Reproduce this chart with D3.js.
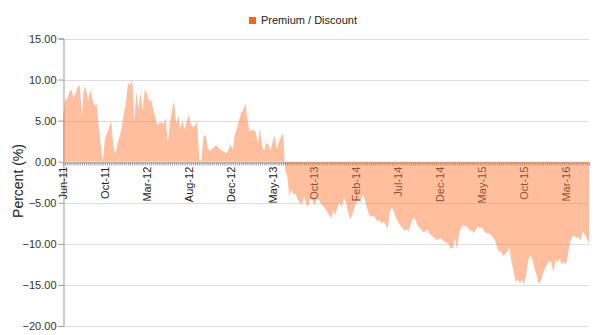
<!DOCTYPE html>
<html><head><meta charset="utf-8">
<script src="https://cdn.jsdelivr.net/npm/d3@7"></script>
<style>body{margin:0;background:#fff;}svg{display:block;font-family:"Liberation Sans",Arial,sans-serif;}</style>
</head><body><svg id="c" width="600" height="335"></svg>
<script>
const seriesName = "Premium / Discount";
const values = [
5.5,7.5,7.6,8.5,8.8,7.8,8.3,9.1,9.3,5.5,9.2,8.8,7.5,8.8,7.6,6.8,7.1,4.5,2.0,0.1,
2.8,3.5,4.2,5.0,2.0,0.8,2.3,3.0,4.2,5.8,7.0,9.6,9.3,10.0,4.9,8.5,6.5,8.4,6.2,8.8,
8.4,7.4,7.6,6.4,5.4,4.5,4.7,4.8,4.6,5.3,2.2,4.8,6.2,7.4,4.6,5.6,4.0,5.0,3.9,4.8,
5.8,4.5,4.2,4.4,4.9,0.2,0.1,3.0,3.3,1.8,1.3,1.5,1.8,2.0,1.8,1.5,1.3,1.2,1.0,1.5,
2.1,1.5,3.3,4.0,5.0,6.0,6.3,7.1,5.2,3.7,3.8,3.9,3.6,2.1,4.1,1.9,1.3,2.3,2.1,1.4,
2.4,3.2,1.5,2.4,3.0,3.5,-1.0,-1.8,-4.2,-3.4,-4.0,-3.9,-4.6,-5.0,-5.3,-4.2,-5.1,-5.5,-4.5,-4.7,
-5.3,-4.6,-4.6,-5.1,-5.4,-5.7,-6.1,-6.5,-6.9,-5.9,-6.5,-5.5,-4.9,-5.6,-4.4,-4.9,-6.1,-7.0,-6.5,-5.7,
-5.0,-4.7,-5.0,-4.0,-4.6,-5.6,-6.4,-6.7,-6.6,-6.8,-7.3,-7.1,-7.5,-7.3,-7.7,-8.2,-6.0,-5.5,-6.2,-6.9,
-7.4,-7.8,-8.0,-8.4,-8.2,-8.5,-7.6,-6.9,-6.9,-7.7,-8.0,-8.3,-8.6,-8.5,-8.3,-8.8,-9.0,-9.2,-9.5,-9.5,
-9.3,-9.5,-9.7,-9.9,-10.0,-10.6,-10.5,-9.3,-10.7,-8.8,-8.0,-7.7,-7.9,-7.9,-8.4,-8.3,-8.7,-8.3,-7.9,-8.1,
-8.0,-8.5,-8.7,-8.7,-8.9,-9.2,-9.5,-10.3,-11.0,-10.9,-11.5,-11.2,-11.0,-10.4,-12.2,-13.3,-14.7,-14.3,-14.8,-14.3,
-15.0,-13.8,-12.0,-11.4,-12.0,-13.0,-13.8,-14.9,-14.5,-13.6,-13.0,-12.5,-12.1,-12.2,-13.5,-12.0,-12.2,-11.8,-12.5,-12.2,
-12.5,-11.3,-9.8,-9.1,-9.0,-9.3,-9.2,-9.5,-8.5,-8.9,-9.4,-9.9
];
const categories = values.map((v, i) => i);           // weekly observations
const tickLabels = ["Jun-11","Oct-11","Mar-12","Aug-12","Dec-12","May-13","Oct-13","Feb-14","Jul-14","Dec-14","May-15","Oct-15","Mar-16"];
const labelEvery = 20;
const yTicks = [15,10,5,0,-5,-10,-15,-20];

const svg = d3.select("#c");
const L = 63, R = 589, T = 38.5, B = 326;
const x = d3.scaleLinear().domain([0, categories.length - 1]).range([L, R]);
const y = d3.scaleLinear().domain([-20, 15]).range([B, T]);

// gridlines
svg.append("g").selectAll("line").data(yTicks).join("line")
  .attr("x1", L).attr("x2", R).attr("y1", d => Math.round(y(d)) + 0.5).attr("y2", d => Math.round(y(d)) + 0.5)
  .attr("stroke", "#dddddd").attr("stroke-width", 1);

// y axis
const yAxis = svg.append("g").attr("transform", `translate(${L + 0.5},0)`)
  .call(d3.axisLeft(y).tickValues(yTicks).tickFormat(d3.format(".2f")).tickSize(5).tickPadding(2));
yAxis.select(".domain").attr("stroke", "#999");
yAxis.selectAll(".tick line").attr("stroke", "#999");
yAxis.selectAll("text").attr("fill", "#333").attr("font-size", 11).attr("font-family", "Liberation Sans, Arial, sans-serif");

// x axis at zero
const xAxis = svg.append("g").attr("transform", `translate(0,${Math.round(y(0)) + 0.5})`)
  .call(d3.axisBottom(x).tickValues(categories).tickSize(3).tickFormat(""));
xAxis.select(".domain").attr("stroke", "#999");
xAxis.selectAll(".tick line").attr("stroke", "#999");

// rotated x labels
svg.append("g").selectAll("text").data(tickLabels).join("text")
  .attr("transform", (d, i) => `translate(${x(i * labelEvery) + 4},${y(0) + 5}) rotate(-90)`)
  .attr("text-anchor", "end").attr("font-size", 11).attr("fill", "#222")
  .text(d => d);

// area
const area = d3.area().x((d, i) => x(i)).y0(y(0)).y1(d => y(d));
svg.append("path").datum(values).attr("d", area)
  .attr("fill", "#ff7f3f").attr("fill-opacity", 0.5);

// y title
svg.append("text").attr("transform", `translate(23,181) rotate(-90)`)
  .attr("text-anchor", "middle").attr("font-size", 14).attr("fill", "#222").text("Percent (%)");

// legend
svg.append("rect").attr("x", 249).attr("y", 17).attr("width", 7).attr("height", 7).attr("fill", "#f7641c");
svg.append("text").attr("x", 261).attr("y", 24).attr("font-size", 11).attr("fill", "#222").text(seriesName);
</script></body></html>
